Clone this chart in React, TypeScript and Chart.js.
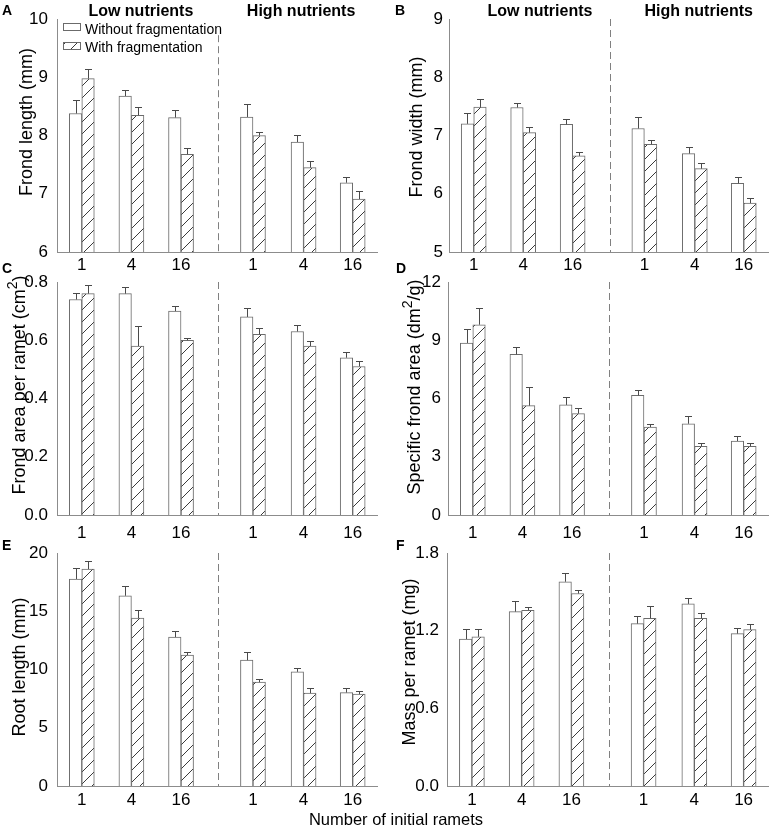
import React, { useEffect, useRef } from 'react';
import { Chart, registerables } from 'chart.js';

Chart.register(...registerables);

const FAM = "'Liberation Sans', Arial, Helvetica, sans-serif";
const AXIS = '#8c8c8c';
const BAR_BORDER = '#6b6b6b';
const ERR = '#4a4a4a';
const HATCH = '#3a3a3a';
const DASH = '#808080';

// ---- categories ----
const rametLabels = ['1', '4', '16', '1', '4', '16'];
const nutrientLevels = ['Low nutrients', 'High nutrients'];
const seriesNames = ['Without fragmentation', 'With fragmentation'];
// location of the six treatment groups on the numeric x axis (low nutrients | high nutrients)
const groupX = [1, 2, 3, 4.45, 5.47, 6.46];
const dividerX = 3.75;
const xTitle = 'Number of initial ramets';

// ---- A: frond length ----
const frondLengthWithout = [8.38, 8.68, 8.31, 8.32, 7.89, 7.19];
const frondLengthWithoutSE = [0.24, 0.11, 0.13, 0.22, 0.12, 0.1];
const frondLengthWith = [8.98, 8.35, 7.68, 8.0, 7.45, 6.91];
const frondLengthWithSE = [0.16, 0.14, 0.1, 0.07, 0.12, 0.13];
const frondLengthTicks = [6, 7, 8, 9, 10];

// ---- B: frond width ----
const frondWidthWithout = [7.2, 7.48, 7.19, 7.12, 6.69, 6.18];
const frondWidthWithoutSE = [0.18, 0.07, 0.1, 0.19, 0.12, 0.11];
const frondWidthWith = [7.49, 7.05, 6.65, 6.85, 6.43, 5.84];
const frondWidthWithSE = [0.13, 0.1, 0.07, 0.07, 0.09, 0.09];
const frondWidthTicks = [5, 6, 7, 8, 9];

// ---- C: frond area per ramet ----
const frondAreaWithout = [0.74, 0.76, 0.7, 0.68, 0.63, 0.54];
const frondAreaWithoutSE = [0.022, 0.023, 0.016, 0.031, 0.024, 0.02];
const frondAreaWith = [0.76, 0.58, 0.6, 0.62, 0.58, 0.51];
const frondAreaWithSE = [0.029, 0.069, 0.008, 0.023, 0.017, 0.019];
const frondAreaTicks = [0, 0.2, 0.4, 0.6, 0.8];

// ---- D: specific frond area ----
const sfaWithout = [8.86, 8.27, 5.67, 6.16, 4.7, 3.81];
const sfaWithoutSE = [0.7, 0.4, 0.42, 0.26, 0.4, 0.26];
const sfaWith = [9.8, 5.63, 5.22, 4.53, 3.54, 3.54];
const sfaWithSE = [0.84, 0.96, 0.29, 0.16, 0.19, 0.17];
const sfaTicks = [0, 3, 6, 9, 12];

// ---- E: root length ----
const rootLengthWithout = [17.77, 16.33, 12.78, 10.8, 9.8, 8.02];
const rootLengthWithoutSE = [0.91, 0.86, 0.54, 0.66, 0.34, 0.35];
const rootLengthWith = [18.62, 14.41, 11.23, 8.91, 7.97, 7.88];
const rootLengthWithSE = [0.69, 0.72, 0.29, 0.29, 0.43, 0.31];
const rootLengthTicks = [0, 5, 10, 15, 20];

// ---- F: mass per ramet ----
const massWithout = [1.135, 1.347, 1.578, 1.254, 1.407, 1.177];
const massWithoutSE = [0.081, 0.086, 0.064, 0.062, 0.049, 0.044];
const massWith = [1.153, 1.358, 1.487, 1.296, 1.296, 1.208];
const massWithSE = [0.057, 0.026, 0.028, 0.093, 0.038, 0.044];
const massTicks = [0, 0.6, 1.2, 1.8];

type PanelCfg = {
  letter: string;
  title: string;
  without: number[];
  withoutSE: number[];
  withF: number[];
  withSE: number[];
  yTicks: number[];
  decimals: number;
  // layout
  left: number; top: number; w: number; h: number;
  plotL: number; plotT: number; plotR: number; plotB: number;
  titleX: number; titleY: number;
  letterX: number; letterY: number;
  headerX?: number[];
  legend?: boolean;
  dashTopOffset: number;
  xTickPad: number;
  yTickPad: number;
};

const panels: PanelCfg[] = [
  {
    letter: 'A', title: 'Frond length (mm)',
    without: frondLengthWithout, withoutSE: frondLengthWithoutSE, withF: frondLengthWith, withSE: frondLengthWithSE,
    yTicks: frondLengthTicks, decimals: 0,
    left: 0, top: 0, w: 384, h: 280, plotL: 57, plotT: 19, plotR: 377, plotB: 252,
    titleX: 27, titleY: 122, letterX: 2, letterY: 15,
    headerX: [2.19, 5.42], legend: true, dashTopOffset: 16, xTickPad: 3, yTickPad: 9,
  },
  {
    letter: 'B', title: 'Frond width (mm)',
    without: frondWidthWithout, withoutSE: frondWidthWithoutSE, withF: frondWidthWith, withSE: frondWidthWithSE,
    yTicks: frondWidthTicks, decimals: 0,
    left: 384, top: 0, w: 385, h: 280, plotL: 65, plotT: 19, plotR: 384, plotB: 252,
    titleX: 33.5, titleY: 127, letterX: 11, letterY: 15,
    headerX: [2.34, 5.55], dashTopOffset: 0, xTickPad: 3, yTickPad: 6,
  },
  {
    letter: 'C', title: 'Frond area per ramet (cm^2)',
    without: frondAreaWithout, withoutSE: frondAreaWithoutSE, withF: frondAreaWith, withSE: frondAreaWithSE,
    yTicks: frondAreaTicks, decimals: 1,
    left: 0, top: 260, w: 384, h: 285, plotL: 57, plotT: 22, plotR: 377, plotB: 255,
    titleX: 20, titleY: 125, letterX: 2, letterY: 13,
    dashTopOffset: 0, xTickPad: 8, yTickPad: 9,
  },
  {
    letter: 'D', title: 'Specific frond area (dm^2/g)',
    without: sfaWithout, withoutSE: sfaWithoutSE, withF: sfaWith, withSE: sfaWithSE,
    yTicks: sfaTicks, decimals: 0,
    left: 384, top: 260, w: 385, h: 285, plotL: 64, plotT: 22, plotR: 384, plotB: 255,
    titleX: 31, titleY: 127, letterX: 12, letterY: 13,
    dashTopOffset: 0, xTickPad: 8, yTickPad: 7,
  },
  {
    letter: 'E', title: 'Root length (mm)',
    without: rootLengthWithout, withoutSE: rootLengthWithoutSE, withF: rootLengthWith, withSE: rootLengthWithSE,
    yTicks: rootLengthTicks, decimals: 0,
    left: 0, top: 530, w: 384, h: 305, plotL: 57, plotT: 23, plotR: 377, plotB: 256,
    titleX: 20, titleY: 137, letterX: 2, letterY: 20,
    dashTopOffset: 0, xTickPad: 4, yTickPad: 9,
  },
  {
    letter: 'F', title: 'Mass per ramet (mg)',
    without: massWithout, withoutSE: massWithoutSE, withF: massWith, withSE: massWithSE,
    yTicks: massTicks, decimals: 1,
    left: 384, top: 530, w: 385, h: 305, plotL: 63, plotT: 23, plotR: 384, plotB: 256,
    titleX: 26, titleY: 132, letterX: 12, letterY: 20,
    dashTopOffset: 0, xTickPad: 4, yTickPad: 8,
  },
];

function makeHatch(ctx: CanvasRenderingContext2D): CanvasPattern | string {
  const c = document.createElement('canvas');
  c.width = 12;
  c.height = 12;
  const g = c.getContext('2d');
  if (!g) return '#fff';
  g.fillStyle = '#ffffff';
  g.fillRect(0, 0, 12, 12);
  g.strokeStyle = HATCH;
  g.lineWidth = 1;
  g.beginPath();
  g.moveTo(0, 12);
  g.lineTo(12, 0);
  g.moveTo(-1, 1);
  g.lineTo(1, -1);
  g.moveTo(11, 13);
  g.lineTo(13, 11);
  g.stroke();
  return ctx.createPattern(c, 'repeat') || '#fff';
}

function drawRotatedRich(ctx: CanvasRenderingContext2D, text: string, cx: number, cy: number, size: number) {
  const parts: { t: string; sup: boolean }[] = [];
  let buf = '';
  for (let i = 0; i < text.length; i++) {
    if (text[i] === '^' && i + 1 < text.length) {
      if (buf) parts.push({ t: buf, sup: false });
      buf = '';
      parts.push({ t: text[i + 1], sup: true });
      i++;
    } else buf += text[i];
  }
  if (buf) parts.push({ t: buf, sup: false });
  const fontFor = (sup: boolean) => `${sup ? Math.round(size * 0.75) : size}px ${FAM}`;
  let total = 0;
  const widths = parts.map((p) => {
    ctx.font = fontFor(p.sup);
    const w = ctx.measureText(p.t).width;
    total += w;
    return w;
  });
  ctx.save();
  ctx.translate(cx, cy);
  ctx.rotate(-Math.PI / 2);
  ctx.fillStyle = '#000';
  ctx.textBaseline = 'middle';
  ctx.textAlign = 'left';
  let x = -total / 2;
  parts.forEach((p, i) => {
    ctx.font = fontFor(p.sup);
    ctx.fillText(p.t, x, p.sup ? -size * 0.38 : 0);
    x += widths[i];
  });
  ctx.restore();
}

function Panel({ cfg }: { cfg: PanelCfg }) {
  const ref = useRef<HTMLCanvasElement | null>(null);

  useEffect(() => {
    const canvas = ref.current;
    if (!canvas) return;
    const ctx = canvas.getContext('2d');
    if (!ctx) return;
    const hatch = makeHatch(ctx);
    const yMin = cfg.yTicks[0];
    const yMax = cfg.yTicks[cfg.yTicks.length - 1];
    const errors = [cfg.withoutSE, cfg.withSE];
    const means = [cfg.without, cfg.withF];

    const deco = {
      id: 'deco' + cfg.letter,
      afterDatasetsDraw(chart: any) {
        const c = chart.ctx as CanvasRenderingContext2D;
        const xs = chart.scales.x;
        const ys = chart.scales.y;
        const area = chart.chartArea;
        // divider
        c.save();
        c.strokeStyle = DASH;
        c.lineWidth = 1;
        c.setLineDash([7, 4]);
        const dx = Math.round(xs.getPixelForValue(dividerX)) + 0.5;
        c.beginPath();
        c.moveTo(dx, area.top + cfg.dashTopOffset);
        c.lineTo(dx, area.bottom);
        c.stroke();
        c.restore();
        // error bars (upper)
        c.save();
        c.strokeStyle = ERR;
        c.lineWidth = 1;
        errors.forEach((errs, di) => {
          const meta = chart.getDatasetMeta(di);
          meta.data.forEach((el: any, i: number) => {
            const x = Math.round(el.x) + 0.5;
            const yTop = Math.round(ys.getPixelForValue(means[di][i] + errs[i])) + 0.5;
            c.beginPath();
            c.moveTo(x, el.y);
            c.lineTo(x, yTop);
            c.moveTo(x - 3.5, yTop);
            c.lineTo(x + 3.5, yTop);
            c.stroke();
          });
        });
        c.restore();
      },
      afterDraw(chart: any) {
        const c = chart.ctx as CanvasRenderingContext2D;
        const xs = chart.scales.x;
        c.save();
        c.fillStyle = '#000';
        // panel letter
        c.font = `bold 14px ${FAM}`;
        c.textAlign = 'left';
        c.textBaseline = 'alphabetic';
        c.fillText(cfg.letter, cfg.letterX, cfg.letterY);
        // nutrient headers
        if (cfg.headerX) {
          c.font = `bold 16px ${FAM}`;
          c.textAlign = 'center';
          cfg.headerX.forEach((hx, i) => {
            c.fillText(nutrientLevels[i], xs.getPixelForValue(hx), 16);
          });
        }
        // legend
        if (cfg.legend) {
          c.textAlign = 'left';
          c.font = `14px ${FAM}`;
          c.strokeStyle = BAR_BORDER;
          c.lineWidth = 1;
          const rows = [
            { fill: '#ffffff' as any, y: 23.5, ty: 34 },
            { fill: hatch as any, y: 42.5, ty: 52 },
          ];
          rows.forEach((r, i) => {
            c.fillStyle = r.fill;
            c.fillRect(63.5, r.y, 17, 7);
            c.strokeRect(63.5, r.y, 17, 7);
            c.fillStyle = '#000';
            c.fillText(seriesNames[i], 85, r.ty);
          });
        }
        c.restore();
        // y title
        drawRotatedRich(c, cfg.title, cfg.titleX, cfg.titleY, 18);
      },
    };

    const chart = new Chart(ctx, {
      type: 'bar',
      data: {
        datasets: [
          {
            label: seriesNames[0],
            data: groupX.map((x, i) => ({ x, y: cfg.without[i] })),
            backgroundColor: '#ffffff',
            borderColor: BAR_BORDER,
            borderWidth: 1,
            barThickness: 12.5,
            base: yMin,
          } as any,
          {
            label: seriesNames[1],
            data: groupX.map((x, i) => ({ x, y: cfg.withF[i] })),
            backgroundColor: hatch as any,
            borderColor: BAR_BORDER,
            borderWidth: 1,
            barThickness: 12.5,
            base: yMin,
          } as any,
        ],
      },
      options: {
        animation: false,
        responsive: false,
        maintainAspectRatio: false,
        events: [],
        layout: {
          padding: { left: 0, top: cfg.plotT, right: cfg.w - cfg.plotR, bottom: 0 },
        },
        plugins: {
          legend: { display: false },
          tooltip: { enabled: false },
          title: { display: false },
        },
        scales: {
          x: {
            type: 'linear',
            min: 0.5,
            max: 6.95,
            offset: false,
            grid: { display: false, drawTicks: false, offset: false },
            border: { display: true, color: AXIS, width: 1 },
            afterBuildTicks: (s: any) => {
              s.ticks = groupX.map((v) => ({ value: v }));
            },
            afterFit: (s: any) => {
              s.height = cfg.h - cfg.plotB;
            },
            ticks: {
              autoSkip: false,
              maxRotation: 0,
              minRotation: 0,
              padding: cfg.xTickPad,
              color: '#000',
              font: { family: FAM, size: 17 },
              callback: (_v: any, i: number) => rametLabels[i],
            },
          } as any,
          y: {
            type: 'linear',
            min: yMin,
            max: yMax,
            grid: { display: false, drawTicks: false },
            border: { display: true, color: AXIS, width: 1 },
            afterBuildTicks: (s: any) => {
              s.ticks = cfg.yTicks.map((v) => ({ value: v }));
            },
            afterFit: (s: any) => {
              s.width = cfg.plotL;
            },
            ticks: {
              padding: cfg.yTickPad,
              color: '#000',
              font: { family: FAM, size: 17 },
              callback: (v: any) => Number(v).toFixed(cfg.decimals),
            },
          } as any,
        },
      },
      plugins: [deco],
    });
    return () => chart.destroy();
  }, [cfg]);

  return (
    <canvas
      ref={ref}
      width={cfg.w}
      height={cfg.h}
      style={{ position: 'absolute', left: cfg.left, top: cfg.top, width: cfg.w, height: cfg.h }}
    />
  );
}

export default function App() {
  return (
    <div
      style={{
        position: 'absolute',
        left: 0,
        top: 0,
        width: 769,
        height: 835,
        background: '#ffffff',
        overflow: 'hidden',
      }}
    >
      {panels.map((p) => (
        <Panel key={p.letter} cfg={p} />
      ))}
      <div
        style={{
          position: 'absolute',
          left: 196,
          top: 811,
          width: 400,
          textAlign: 'center',
          fontFamily: FAM,
          fontSize: '16.5px',
          lineHeight: '17px',
          color: '#000',
          whiteSpace: 'nowrap',
        }}
      >
        {xTitle}
      </div>
    </div>
  );
}
